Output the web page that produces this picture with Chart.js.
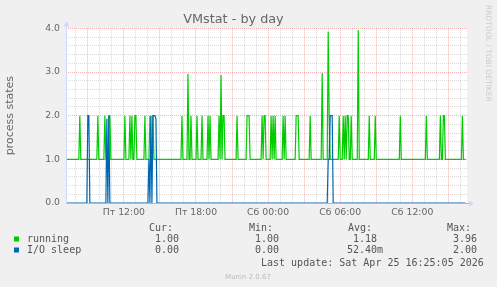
<!DOCTYPE html>
<html>
<head>
<meta charset="utf-8">
<title>VMstat - by day</title>
<script src="https://cdn.jsdelivr.net/npm/chart.js@4.4.1/dist/chart.umd.min.js"></script>
<style>
  html, body { margin: 0; padding: 0; background: #f0f0f0; }
  #wrap { width: 497px; height: 287px; }
</style>
</head>
<body>
<div id="wrap"><canvas id="vmstat" width="497" height="287"></canvas></div>
<script>
// times are minutes from Fri 00:00, one rrd sample every 5 minutes
const STEP = 5;
const firstSample = 435;   // Fri 07:15
const lastSample = 2425;   // Sat 16:25
const xMin = 431;
const xMax = 2433;

const xTickValues = [720, 1080, 1440, 1800, 2160];
const xTickLabels = ['Пт 12:00', 'Пт 18:00', 'Сб 00:00', 'Сб 06:00', 'Сб 12:00'];
const yMajorTicks = [0, 1, 2, 3, 4];

// samples that leave the base level
const runningBase = 1;
const runningTimes = [500, 590, 625, 645, 650, 725, 750, 760, 775, 780, 825, 850, 865,
  1010, 1040, 1055, 1085, 1110, 1140, 1150, 1195, 1205, 1215, 1220, 1285, 1335, 1340, 1345,
  1410, 1420, 1425, 1455, 1465, 1475, 1515, 1525, 1580, 1585, 1590, 1650, 1710, 1740, 1745,
  1795, 1815, 1825, 1835, 1840, 1855, 1890, 1945, 1975, 2100, 2230, 2300, 2315, 2320, 2410];
const runningValues = [2, 2, 2, 2, 2, 2, 2, 2, 2, 2, 2, 2, 2,
  2, 2.96, 2, 2, 2, 2, 2, 2, 2.93, 2, 2, 2, 2, 2, 2,
  2, 2, 2, 2, 2, 2, 2, 2, 2, 2, 2, 2, 2.98, 3.92, 2,
  2, 2, 2, 2, 2, 2, 3.96, 2, 2, 2, 2, 2, 2, 2, 2];

const ioBase = 0;
const ioTimes = [540, 545, 635, 645, 845, 855, 865, 870, 875, 880, 1740, 1745, 1750, 1755, 1760];
const ioValues = [2, 2, 1.93, 2, 1, 2, 2, 2, 2, 1.93, 1, 1, 2, 2, 2];

const legendNames = ['running', 'I/O sleep'];
const legendColors = ['#00cc00', '#0066b3'];
const legendCur = ['1.00', '0.00'];
const legendMin = ['1.00', '0.00'];
const legendAvg = [' 1.18 ', '52.40m'];
const legendMax = ['3.96', '2.00'];
const lastUpdate = 'Last update: Sat Apr 25 16:25:05 2026';

function buildSeries(times, values, base) {
    const pts = [{ x: firstSample, y: base }];
    times.forEach((t, i) => {
        if (times[i - 1] !== t - STEP) pts.push({ x: t - STEP, y: base });
        pts.push({ x: t, y: values[i] });
        if (times[i + 1] !== t + STEP) pts.push({ x: t + STEP, y: base });
    });
    pts.push({ x: lastSample, y: base });
    return pts;
}

const GRID = 'rgba(150,150,150,0.35)';
const MGRID = 'rgba(230,90,90,0.45)';
const AXIS = '#cfd6f8';
const FONT = '#666666';

const muninLook = {
    id: 'muninLook',
    beforeDraw(chart) {
        const { ctx, chartArea: a } = chart;
        ctx.save();
        ctx.fillStyle = '#f0f0f0';
        ctx.fillRect(0, 0, chart.width, chart.height);
        ctx.fillStyle = '#ffffff';
        ctx.fillRect(a.left, a.top, a.right - a.left, a.bottom - a.top);
        ctx.restore();
    },
    afterDatasetsDraw(chart) {
        const { ctx, chartArea: a } = chart;
        const x0 = Math.round(a.left) + 0.5;
        const y0 = Math.round(a.bottom) + 0.5;
        ctx.save();
        ctx.lineWidth = 1;
        ctx.strokeStyle = '#aab6e8';
        ctx.beginPath();
        ctx.moveTo(x0, y0); ctx.lineTo(a.right + 3, y0);
        ctx.stroke();
        ctx.strokeStyle = AXIS;
        ctx.beginPath();
        ctx.moveTo(x0, y0); ctx.lineTo(x0, a.top - 4);
        ctx.stroke();
        // arrows
        ctx.fillStyle = AXIS;
        ctx.beginPath();
        ctx.moveTo(x0 - 3, a.top - 2); ctx.lineTo(x0 + 3, a.top - 2); ctx.lineTo(x0, a.top - 7);
        ctx.closePath(); ctx.fill();
        ctx.beginPath();
        ctx.moveTo(a.right + 2, y0 - 3); ctx.lineTo(a.right + 2, y0 + 3); ctx.lineTo(a.right + 7, y0);
        ctx.closePath(); ctx.fill();
        ctx.restore();
    },
    afterDraw(chart) {
        const { ctx } = chart;
        ctx.save();
        ctx.font = '10px "DejaVu Sans Mono"';
        ctx.fillStyle = '#555555';
        ctx.textBaseline = 'alphabetic';
        ctx.fillText('Cur:', 149, 231);
        ctx.fillText('Min:', 249, 231);
        ctx.fillText('Avg:', 348, 231);
        ctx.fillText('Max:', 447, 231);
        const rowY = [241.5, 252.5];
        legendNames.forEach((name, i) => {
            ctx.fillStyle = legendColors[i];
            ctx.fillRect(14, rowY[i] - 5, 5, 5);
            ctx.fillStyle = '#555555';
            ctx.fillText(name, 27, rowY[i]);
            ctx.fillText(legendCur[i], 155, rowY[i]);
            ctx.fillText(legendMin[i], 255, rowY[i]);
            ctx.fillText(legendAvg[i], 347, rowY[i]);
            ctx.fillText(legendMax[i], 453, rowY[i]);
        });
        ctx.fillText(lastUpdate, 261, 266);

        ctx.font = '7px "DejaVu Sans"';
        ctx.fillStyle = '#bbbbbb';
        ctx.textAlign = 'center';
        ctx.fillText('Munin 2.0.67', 248, 278.5);

        ctx.font = '7.5px "DejaVu Sans"';
        ctx.fillStyle = '#cccccc';
        ctx.textAlign = 'left';
        ctx.textBaseline = 'middle';
        ctx.translate(488, 5);
        ctx.rotate(Math.PI / 2);
        ctx.fillText('RRDTOOL / TOBI OETIKER', 0, 0);
        ctx.restore();
    }
};

new Chart(document.getElementById('vmstat'), {
    type: 'line',
    plugins: [muninLook],
    data: {
        datasets: [
            {
                label: legendNames[0],
                data: buildSeries(runningTimes, runningValues, runningBase),
                borderColor: legendColors[0],
                borderWidth: 1.2,
                pointRadius: 0,
                tension: 0,
                order: 1
            },
            {
                label: legendNames[1],
                data: buildSeries(ioTimes, ioValues, ioBase),
                borderColor: legendColors[1],
                borderWidth: 1.2,
                pointRadius: 0,
                tension: 0,
                order: 0
            }
        ]
    },
    options: {
        responsive: false,
        animation: false,
        layout: { padding: { top: 0, right: 30, bottom: 64, left: 0 } },
        plugins: {
            legend: { display: false },
            tooltip: { enabled: false },
            title: {
                display: true,
                text: 'VMstat - by day',
                color: FONT,
                font: { family: 'DejaVu Sans', size: 12.8, weight: 'normal' },
                padding: { top: 12, bottom: 1 }
            }
        },
        scales: {
            x: {
                type: 'linear',
                min: xMin,
                max: xMax,
                afterBuildTicks(scale) {
                    const ticks = [];
                    for (let t = Math.ceil(xMin / 60) * 60; t <= xMax; t += 60) ticks.push({ value: t });
                    scale.ticks = ticks;
                },
                afterFit(scale) { scale.height = 20; },
                border: { display: false, dash: [1, 1] },
                grid: {
                    drawTicks: false,
                    color: ctx => (ctx.tick && ctx.tick.value % 180 === 0) ? MGRID : GRID
                },
                ticks: {
                    autoSkip: false,
                    maxRotation: 0,
                    padding: 4,
                    color: FONT,
                    font: { family: 'DejaVu Sans', size: 9.3 },
                    callback: v => {
                        const i = xTickValues.indexOf(v);
                        return i >= 0 ? xTickLabels[i] : '';
                    }
                }
            },
            y: {
                type: 'linear',
                min: 0,
                max: 4,
                afterFit(scale) { scale.width = 66; },
                border: { display: false, dash: [1, 1] },
                grid: {
                    drawTicks: false,
                    color: ctx => (ctx.tick && yMajorTicks.some(m => Math.abs(m - ctx.tick.value) < 1e-6)) ? MGRID : GRID
                },
                ticks: {
                    stepSize: 0.2,
                    autoSkip: false,
                    padding: 6,
                    color: FONT,
                    font: { family: 'DejaVu Sans', size: 9.3 },
                    callback: v => yMajorTicks.some(m => Math.abs(m - v) < 1e-6) ? Number(v).toFixed(1) : ''
                },
                title: {
                    display: true,
                    text: 'process states',
                    color: FONT,
                    font: { family: 'DejaVu Sans', size: 11 },
                    padding: { top: 4, bottom: 0 }
                }
            }
        }
    }
});
</script>
</body>
</html>
